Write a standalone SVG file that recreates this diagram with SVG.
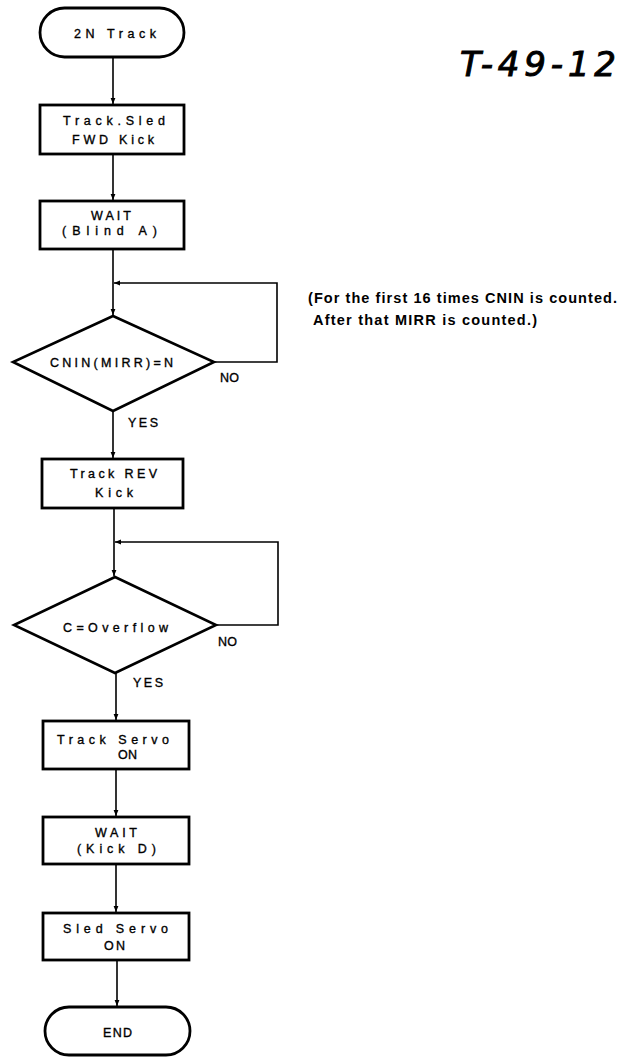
<svg xmlns="http://www.w3.org/2000/svg" width="622" height="1057" viewBox="0 0 622 1057">
<style>
.box{fill:#fff;stroke:#000;stroke-width:2.8}
.dia{fill:#fff;stroke:#000;stroke-width:2.6}
.t{font-family:"Liberation Sans",Arial,sans-serif;font-size:12.5px;fill:#000;stroke:#000;stroke-width:0.35}
.note{font-family:"Liberation Sans",Arial,sans-serif;font-size:14.5px;font-weight:bold;fill:#000}
.hand{font-family:"DejaVu Sans","Liberation Sans",sans-serif;font-size:34px;font-style:italic;fill:#000;stroke:#000;stroke-width:1}
.c{fill:none;stroke:#000;stroke-width:1.6}
</style>
<defs>
<marker id="ah" viewBox="0 0 10 10" refX="10" refY="5" markerWidth="6" markerHeight="6" markerUnits="userSpaceOnUse" orient="auto">
<path d="M0,1 L10,5 L0,9 Z" fill="#000"/>
</marker>
</defs>
<rect width="622" height="1057" fill="#fff"/>

<g id="connectors">
<line class="c" x1="113" y1="57" x2="113" y2="104" marker-end="url(#ah)"/>
<line class="c" x1="113" y1="154" x2="113" y2="200" marker-end="url(#ah)"/>
<line class="c" x1="113" y1="249" x2="113" y2="315" marker-end="url(#ah)"/>
<polyline class="c" points="214,362 277,362 277,283 114,283" marker-end="url(#ah)"/>
<line class="c" x1="113" y1="411" x2="113" y2="458" marker-end="url(#ah)"/>
<line class="c" x1="114" y1="508" x2="114" y2="576" marker-end="url(#ah)"/>
<polyline class="c" points="216,625 278,625 278,542 115,542" marker-end="url(#ah)"/>
<line class="c" x1="116" y1="673" x2="116" y2="720" marker-end="url(#ah)"/>
<line class="c" x1="116" y1="769" x2="116" y2="816" marker-end="url(#ah)"/>
<line class="c" x1="116" y1="864" x2="116" y2="912" marker-end="url(#ah)"/>
<line class="c" x1="117" y1="960" x2="117" y2="1006" marker-end="url(#ah)"/>
</g>

<g id="start">
<rect class="box" x="40" y="8" width="144" height="49" rx="24.5"/>
<text class="t" x="74" y="38" textLength="82" lengthAdjust="spacing">2N Track</text>
</g>

<g id="fwd-kick">
<rect class="box" x="40" y="105" width="144" height="49"/>
<text class="t" x="63" y="125" textLength="102" lengthAdjust="spacing">Track.Sled</text>
<text class="t" x="72" y="144" textLength="82" lengthAdjust="spacing">FWD Kick</text>
</g>

<g id="wait-blind">
<rect class="box" x="40" y="201" width="144" height="48"/>
<text class="t" x="91" y="220" textLength="40" lengthAdjust="spacing">WAIT</text>
<text class="t" x="62" y="235" textLength="95" lengthAdjust="spacing">(Blind A)</text>
</g>

<g id="decision-cnin">
<polygon class="dia" points="113,316 214,362 113,411 13,362"/>
<text class="t" x="50" y="367" textLength="123" lengthAdjust="spacing">CNIN(MIRR)=N</text>
<text class="t" x="220" y="382" textLength="19" lengthAdjust="spacing">NO</text>
<text class="t" x="128" y="427" textLength="30" lengthAdjust="spacing">YES</text>
</g>

<g id="note">
<text class="note" x="308" y="303" textLength="309" lengthAdjust="spacing">(For the first 16 times CNIN is counted.</text>
<text class="note" x="313" y="325" textLength="224" lengthAdjust="spacing">After that MIRR is counted.)</text>
</g>

<g id="rev-kick">
<rect class="box" x="42" y="459" width="141" height="49"/>
<text class="t" x="70" y="478" textLength="87" lengthAdjust="spacing">Track REV</text>
<text class="t" x="95" y="497" textLength="38" lengthAdjust="spacing">Kick</text>
</g>

<g id="decision-overflow">
<polygon class="dia" points="115,577 216,625 115,673 14,625"/>
<text class="t" x="63" y="632" textLength="105" lengthAdjust="spacing">C=Overflow</text>
<text class="t" x="218" y="646" textLength="19" lengthAdjust="spacing">NO</text>
<text class="t" x="133" y="687" textLength="30" lengthAdjust="spacing">YES</text>
</g>

<g id="track-servo">
<rect class="box" x="43" y="721" width="146" height="48"/>
<text class="t" x="57" y="744" textLength="112" lengthAdjust="spacing">Track Servo</text>
<text class="t" x="118" y="759" textLength="19" lengthAdjust="spacing">ON</text>
</g>

<g id="wait-kick">
<rect class="box" x="43" y="817" width="146" height="47"/>
<text class="t" x="95" y="837" textLength="42" lengthAdjust="spacing">WAIT</text>
<text class="t" x="77" y="853" textLength="79" lengthAdjust="spacing">(Kick D)</text>
</g>

<g id="sled-servo">
<rect class="box" x="43" y="913" width="146" height="47"/>
<text class="t" x="63" y="933" textLength="105" lengthAdjust="spacing">Sled Servo</text>
<text class="t" x="104" y="950" textLength="21" lengthAdjust="spacing">ON</text>
</g>

<g id="end">
<rect class="box" x="45" y="1007" width="145" height="48" rx="24"/>
<text class="t" x="103" y="1037" textLength="29" lengthAdjust="spacing">END</text>
</g>

<g id="handwriting">
<text class="hand" x="460" y="76" textLength="156" lengthAdjust="spacing">T-49-12</text>
</g>
</svg>
